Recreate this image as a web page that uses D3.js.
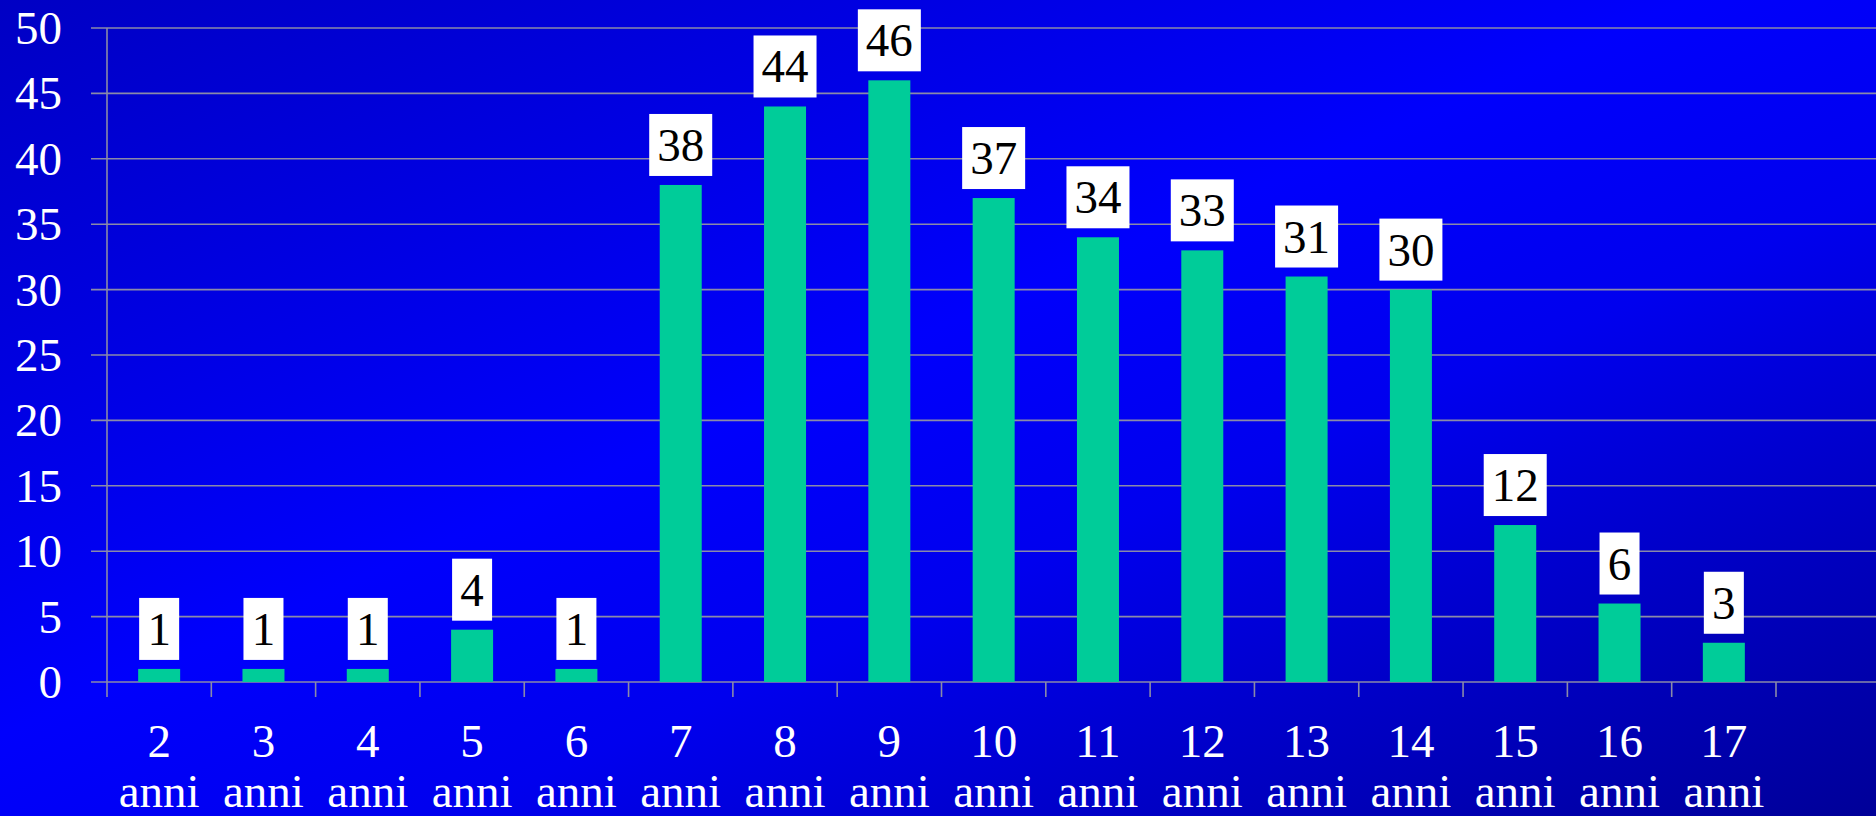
<!DOCTYPE html>
<html><head><meta charset="utf-8">
<script src="https://cdn.jsdelivr.net/npm/d3@7"></script>
<style>html,body{margin:0;padding:0;overflow:hidden;background:#0000e0}
svg text{font-family:"Liberation Serif","Times New Roman",Times,serif;}</style>
</head><body>
<script>
const categories = ["2","3","4","5","6","7","8","9","10","11","12","13","14","15","16","17"];
const unitLabel = "anni";
const values = [1,1,1,4,1,38,44,46,37,34,33,31,30,12,6,3];
const yTicks = [0,5,10,15,20,25,30,35,40,45,50];

const W = 1876, H = 816;
const svg = d3.select("body").append("svg").attr("width", W).attr("height", H);
const defs = svg.append("defs");
const grad = defs.append("linearGradient").attr("id","bg")
  .attr("x1","0").attr("y1","0").attr("x2","1").attr("y2","1");
grad.append("stop").attr("offset","0").attr("stop-color","#0000c4");
grad.append("stop").attr("offset","0.45").attr("stop-color","#0000fc");
grad.append("stop").attr("offset","0.62").attr("stop-color","#0000ee");
grad.append("stop").attr("offset","1").attr("stop-color","#000098");
svg.append("rect").attr("width",W).attr("height",H).attr("fill","url(#bg)");

const x0 = 107, x1 = 1776, y0 = 682, y1 = 28;
const xb = d3.scaleBand().domain(categories).range([x0, x1]);
const y = d3.scaleLinear().domain([0,50]).range([y0, y1]);
const grid = "#8a8aa8";

// horizontal grid lines
svg.append("g").selectAll("line").data(yTicks).join("line")
  .attr("x1", 91).attr("x2", W).attr("y1", d=>y(d)).attr("y2", d=>y(d))
  .attr("stroke", grid).attr("stroke-width", 1.6);
// y axis line
svg.append("line").attr("x1",x0).attr("x2",x0).attr("y1",y1).attr("y2",y0+15)
  .attr("stroke",grid).attr("stroke-width",1.6);
// x ticks at category boundaries
const bounds = categories.map(c=>xb(c)).concat([x1]);
svg.append("g").selectAll("line").data(bounds.slice(1)).join("line")
  .attr("x1",d=>d).attr("x2",d=>d).attr("y1",y0).attr("y2",y0+15)
  .attr("stroke",grid).attr("stroke-width",1.6);

// y labels
svg.append("g").selectAll("text").data(yTicks).join("text")
  .attr("x", 62).attr("y", d=>y(d)).attr("dy","0.34em")
  .attr("text-anchor","end").attr("fill","#fff")
  .attr("font-size",47).text(d=>d);

// bars
svg.append("g").selectAll("rect").data(values).join("rect")
  .attr("x",(d,i)=>xb(categories[i]) + xb.bandwidth()/2 - 21)
  .attr("width",42)
  .attr("y",d=>y(d)).attr("height",d=>y0-y(d))
  .attr("fill","#00cc99");

// value labels in white boxes
const lab = svg.append("g").selectAll("g").data(values).join("g")
  .attr("transform",(d,i)=>`translate(${xb(categories[i]) + xb.bandwidth()/2},${y(d)-9})`);
lab.append("rect")
  .attr("x",d=>-(String(d).length*23+17)/2)
  .attr("width",d=>String(d).length*23+17)
  .attr("y",-62).attr("height",62).attr("fill","#fff");
lab.append("text").attr("x",0).attr("y",-15).attr("text-anchor","middle")
  .attr("fill","#000").attr("font-size",47).text(d=>d);

// x labels (two lines)
const xl = svg.append("g").selectAll("text").data(categories).join("text")
  .attr("text-anchor","middle").attr("fill","#fff")
  .attr("font-size",47);
xl.append("tspan").attr("x",c=>xb(c)+xb.bandwidth()/2).attr("y",757).text(c=>c);
xl.append("tspan").attr("x",c=>xb(c)+xb.bandwidth()/2).attr("y",807).text(unitLabel);
</script>
</body></html>
